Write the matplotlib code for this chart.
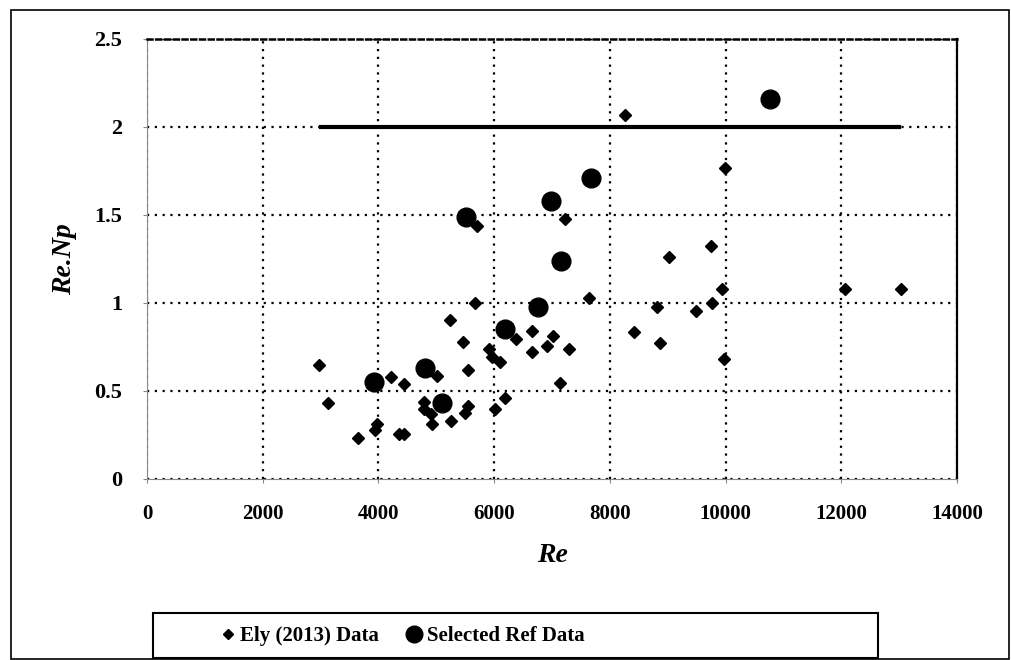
import numpy as np
import matplotlib
matplotlib.use("Agg")
import matplotlib.pyplot as plt
from matplotlib.patches import Rectangle
from matplotlib.lines import Line2D

# Ely (2013) data
ely_re = [2970, 3120, 3650, 3945, 3975, 4215, 4350, 4435, 4450, 4780,
          4780, 4900, 4920, 5015, 5250, 5240, 5470, 5500, 5540, 5540,
          5670, 5710, 5910, 5960, 6015, 6100, 6195, 6370, 6650, 6650,
          6920, 7020, 7135, 7220, 7300, 7635, 8255, 8410, 8815, 8860,
          9030, 9490, 9750, 9765, 9935, 9970, 9990, 12065, 13025]
ely_renp = [0.65, 0.43, 0.235, 0.28, 0.31, 0.58, 0.255, 0.255, 0.54, 0.44,
            0.40, 0.37, 0.315, 0.585, 0.33, 0.905, 0.78, 0.375, 0.415, 0.62,
            1.0, 1.44, 0.74, 0.695, 0.40, 0.665, 0.46, 0.795, 0.84, 0.72,
            0.755, 0.81, 0.545, 1.475, 0.74, 1.03, 2.07, 0.835, 0.975, 0.775,
            1.26, 0.955, 1.325, 1.0, 1.08, 0.68, 1.765, 1.08, 1.08]

# selected reference data
ref_re = [3920, 4810, 5100, 5510, 6180, 6750, 6990, 7150, 7670, 10770]
ref_renp = [0.55, 0.63, 0.43, 1.49, 0.855, 0.98, 1.58, 1.24, 1.71, 2.16]

# laminar line
line_re = [3000, 13000]
line_renp = [2, 2]

W, H = 1011, 660
fig = plt.figure(figsize=(W / 100, H / 100), dpi=100)
ax = fig.add_axes([147 / W, 1 - 479 / H, 810 / W, 440 / H])

ax.plot(line_re, line_renp, color='black', lw=3, solid_capstyle='projecting', zorder=2)
ax.plot(ely_re, ely_renp, 'D', color='black', ms=6, zorder=3)
ax.plot(ref_re, ref_renp, 'o', color='black', ms=13.5, zorder=4)

ax.set_xlim(0, 14000)
ax.set_ylim(0, 2.5)
ax.set_xticks(np.arange(0, 14001, 2000))
ax.set_yticks([0, 0.5, 1, 1.5, 2, 2.5])
ax.set_yticklabels(['0', '0.5', '1', '1.5', '2', '2.5'])

ax.grid(True, color='black', linestyle=(0, (1, 2.5)), lw=1.6)
ax.set_axisbelow(True)

for s in ['left', 'bottom']:
    ax.spines[s].set_color('#888888')
    ax.spines[s].set_linewidth(0.8)
ax.spines['right'].set_color('black')
ax.spines['right'].set_linewidth(1.6)
ax.spines['top'].set_color('black')
ax.spines['top'].set_linewidth(1.8)
ax.spines['top'].set_linestyle((0, (2, 1.5)))

serif = ['Liberation Serif', 'DejaVu Serif']
ax.tick_params(axis='both', direction='out', length=3, color='#888888')
ax.tick_params(axis='x', pad=15, labelsize=15)
ax.tick_params(axis='y', pad=15, labelsize=16)
for lab in ax.get_xticklabels() + ax.get_yticklabels():
    lab.set_fontfamily(serif)
    lab.set_fontweight('bold')

ax.set_xlabel('Re', fontsize=20, fontweight='bold', fontstyle='italic',
              family=serif, labelpad=14)
ax.set_ylabel('Re.Np', fontsize=20, fontweight='bold', fontstyle='italic',
              family=serif, labelpad=12)

# legend
handles = [Line2D([], [], ls='none', marker='D', color='black', ms=5),
           Line2D([], [], ls='none', marker='o', color='black', ms=12)]
leg = fig.legend(handles, ['Ely (2013) Data', 'Selected Ref Data'],
                 loc='center', bbox_to_anchor=(403 / W, 1 - 636 / H),
                 ncol=2, frameon=False, handlelength=0.6, handletextpad=0.3,
                 columnspacing=1.4, prop={'family': serif, 'weight': 'bold', 'size': 15})
fig.patches.append(Rectangle((153 / W, 1 - 658 / H), 725 / W, 45 / H,
                             transform=fig.transFigure, fill=False,
                             edgecolor='black', lw=1.5))
fig.patches.append(Rectangle((11 / W, 1 - 659 / H), 998 / W, 649 / H,
                             transform=fig.transFigure, fill=False,
                             edgecolor='black', lw=1.2))

fig.savefig('out.png', dpi=100)
